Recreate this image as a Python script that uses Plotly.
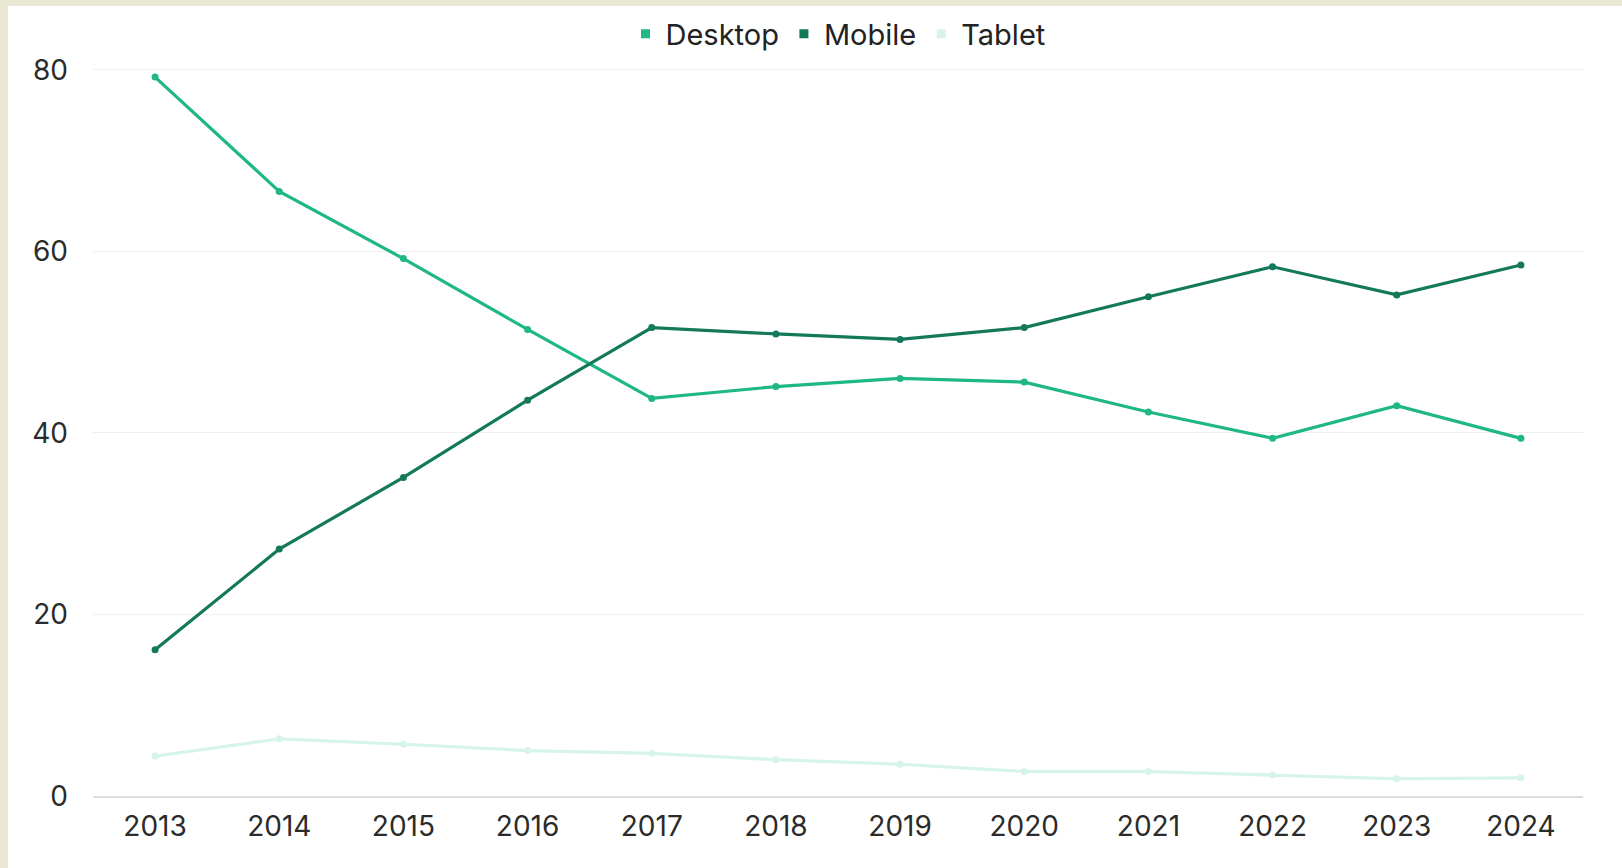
import plotly.graph_objects as go

years = ["2013", "2014", "2015", "2016", "2017", "2018", "2019", "2020", "2021", "2022", "2023", "2024"]
desktop = [79.2, 66.6, 59.2, 51.4, 43.8, 45.1, 46.0, 45.6, 42.3, 39.4, 43.0, 39.4]
mobile = [16.1, 27.2, 35.1, 43.6, 51.6, 50.9, 50.3, 51.6, 55.0, 58.3, 55.2, 58.5]
tablet = [4.4, 6.3, 5.7, 5.0, 4.7, 4.0, 3.5, 2.7, 2.7, 2.3, 1.9, 2.0]
series_names = ["Desktop", "Mobile", "Tablet"]
colors = ["#1fb784", "#13795a", "#d6f4eb"]
y_ticks = [0, 20, 40, 60, 80]

FONT = "Inter, Roboto, sans-serif"

fig = go.Figure()
for name, vals, col in zip(series_names, [desktop, mobile, tablet], colors):
    fig.add_trace(go.Scatter(
        x=years, y=vals, name=name, mode="lines+markers",
        line=dict(color=col, width=3.2),
        marker=dict(color=col, size=7),
        showlegend=False,
    ))
# legend-only square markers
for name, col in zip(series_names, colors):
    fig.add_trace(go.Scatter(
        x=[None], y=[None], name=name, mode="markers",
        marker=dict(color=col, size=9, symbol="square"),
        showlegend=True,
    ))

W, H = 1622, 868
ml, mr, mt, mb = 93, 39, 68, 72
pw = W - ml - mr
ph = H - mt - mb

# white panel over beige frame
fig.add_shape(
    type="rect", xref="paper", yref="paper",
    x0=(8 - ml) / pw, x1=1.2,
    y0=-0.3, y1=1 + (mt - 6) / ph,
    fillcolor="white", line=dict(width=0), layer="below",
)

fig.update_layout(
    width=W, height=H,
    margin=dict(l=ml, r=mr, t=mt, b=mb, autoexpand=False),
    paper_bgcolor="#e9e6d3",
    plot_bgcolor="white",
    font=dict(family=FONT, size=28, color="#2b2b2b"),
    legend=dict(
        orientation="h", x=0.5, xanchor="center", y=1 + 34 / ph, yanchor="middle",
        font=dict(family=FONT, size=29, color="#222222"),
        itemwidth=30, bgcolor="rgba(0,0,0,0)",
    ),
    xaxis=dict(
        type="category", range=[-0.5, 11.5],
        showgrid=False, showline=True, linecolor="#dcdcdc", linewidth=2,
        ticks="", tickfont=dict(size=28, color="#2b2b2b"),
        ticklabelstandoff=4,
    ),
    yaxis=dict(
        range=[0, 80.2], tickvals=y_ticks,
        showgrid=True, gridcolor="#efefef", gridwidth=1,
        zeroline=False, showline=False,
        ticks="", tickfont=dict(size=28, color="#2b2b2b"),
        ticklabelstandoff=24,
    ),
)

fig.write_html(
    "out.html",
    config={"displayModeBar": False},
    post_script="document.body.style.margin='0';document.body.style.overflow='hidden';",
)
